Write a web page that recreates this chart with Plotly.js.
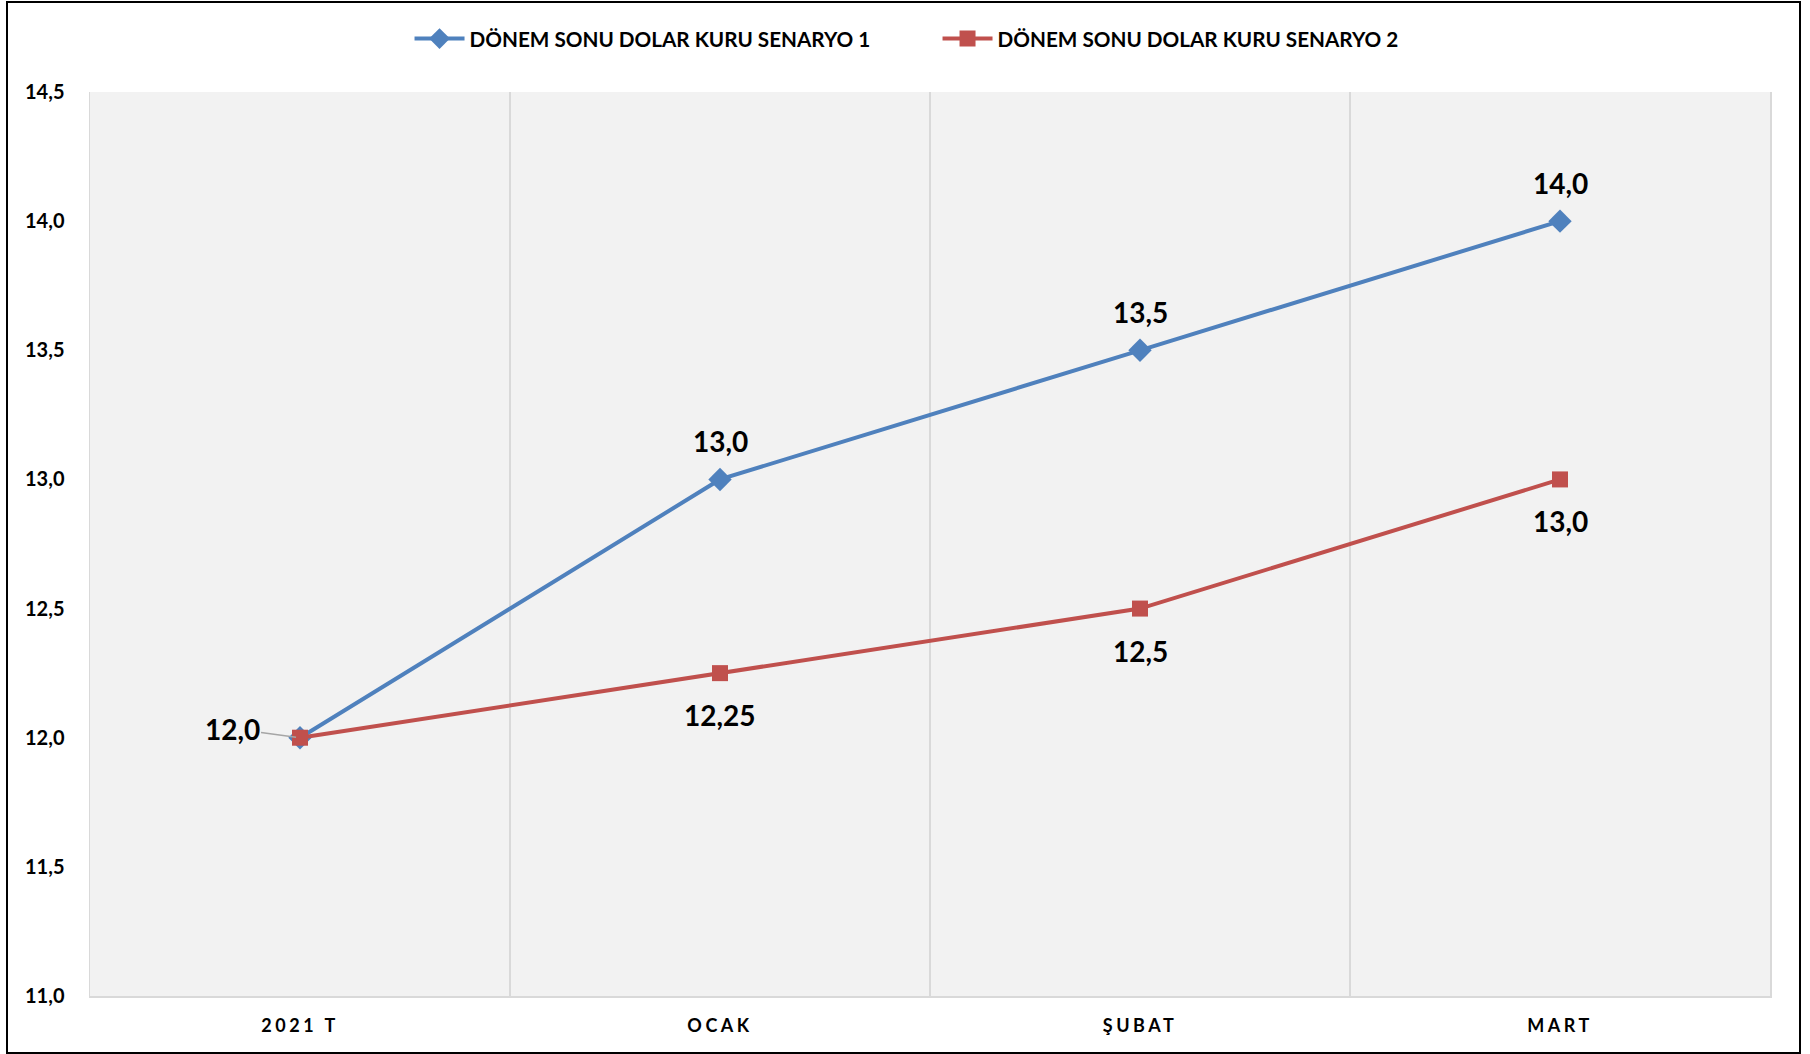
<!DOCTYPE html>
<html>
<head>
<meta charset="utf-8">
<script src="https://cdn.plot.ly/plotly-3.0.1.min.js"></script>
<style>
  html, body { margin: 0; padding: 0; background: #fff; }
  #frame { position: absolute; left: 6px; top: 1px; width: 1795px; height: 1053px; box-sizing: border-box; border: 2px solid #000; }
  #chart { width: 1791px; height: 1049px; }
  .xtick text { letter-spacing: 3.5px; }
</style>
</head>
<body>
<div id="frame"><div id="chart"></div></div>
<script>
const categories = ["2021 T", "OCAK", "ŞUBAT", "MART"];
const seriesNames = ["DÖNEM SONU DOLAR KURU SENARYO 1", "DÖNEM SONU DOLAR KURU SENARYO 2"];
const scenario1 = [12.0, 13.0, 13.5, 14.0];
const scenario2 = [12.0, 12.25, 12.5, 13.0];
const yTicks = [11.0, 11.5, 12.0, 12.5, 13.0, 13.5, 14.0, 14.5];

const blue = "#4F81BD", red = "#C0504D";
const fontFam = "Lato, 'Liberation Sans', sans-serif";

function fmt(v) {
  const s = (Math.round(v * 100) % 10 !== 0) ? v.toFixed(2) : v.toFixed(1);
  return s.replace(".", ",");
}

const traces = [
  { x: categories, y: scenario1, name: seriesNames[0], type: "scatter", mode: "lines+markers",
    line: { color: blue, width: 4 }, marker: { symbol: "diamond", size: 18, color: blue } },
  { x: categories, y: scenario2, name: seriesNames[1], type: "scatter", mode: "lines+markers",
    line: { color: red, width: 4 }, marker: { symbol: "square", size: 16, color: red } }
];

const labelFont = { family: fontFam, size: 28, color: "#000", weight: "bold" };
const annotations = [];
scenario1.forEach((v, i) => {
  if (i === 0) {
    annotations.push({ x: categories[i], y: v, text: fmt(v), showarrow: true, arrowhead: 0,
      arrowcolor: "#a6a6a6", arrowwidth: 1.5, ax: -68, ay: -9, standoff: 4, font: labelFont });
  } else {
    annotations.push({ x: categories[i], y: v, text: fmt(v), showarrow: false, yshift: 38, font: labelFont });
  }
});
scenario2.forEach((v, i) => {
  if (i === 0) return;
  annotations.push({ x: categories[i], y: v, text: fmt(v), showarrow: false, yshift: -42, font: labelFont });
});

const layout = {
  width: 1791, height: 1049,
  margin: { l: 82, r: 29, t: 89, b: 56 },
  paper_bgcolor: "#fff", plot_bgcolor: "#f2f2f2",
  separators: ",.",
  showlegend: true,
  legend: { orientation: "h", xref: "container", yref: "container", x: 0.519, xanchor: "center",
    y: 0.966, yanchor: "middle", font: { family: fontFam, size: 20.7, color: "#000", weight: "bold" },
    itemwidth: 50, entrywidth: 463, traceorder: "normal" },
  xaxis: { type: "category", range: [-0.5, 3.5], tickson: "boundaries", showgrid: true,
    gridcolor: "#d9d9d9", gridwidth: 1.5, showline: true, linecolor: "#d9d9d9", linewidth: 1.5,
    ticks: "", ticklabelstandoff: 13, zeroline: false, fixedrange: true,
    tickfont: { family: fontFam, size: 18, color: "#000", weight: "bold" } },
  yaxis: { range: [11.0, 14.5], tickvals: yTicks, tickformat: ".1f", showgrid: false,
    showline: true, mirror: true, linecolor: "#d9d9d9", linewidth: 1.5, zeroline: false,
    ticks: "", ticklabelstandoff: 20,
    tickfont: { family: fontFam, size: 20, color: "#000", weight: "bold" } },
  annotations: annotations
};

Plotly.newPlot("chart", traces, layout, { displayModeBar: false, staticPlot: true });
</script>
</body>
</html>
